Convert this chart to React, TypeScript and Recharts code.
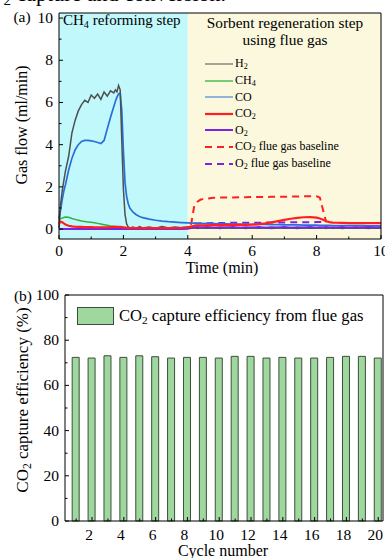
import { LineChart, Line, BarChart, Bar, XAxis, YAxis, ReferenceArea, ReferenceLine, Legend } from 'recharts';

const FONT = '"Liberation Serif", "Times New Roman", serif';

// (a) gas flow vs time
const time = [
  0, 0.05, 0.1, 0.15, 0.2, 0.3, 0.4, 0.5, 0.6, 0.7,
  0.8, 0.9, 1.0, 1.1, 1.2, 1.3, 1.4, 1.5, 1.6, 1.7,
  1.75, 1.8, 1.85, 1.9, 1.95, 2.0, 2.05, 2.1, 2.15, 2.2,
  2.3, 2.4, 2.5, 2.6, 2.8, 3.0, 3.2, 3.4, 3.6, 3.8,
  4.0, 4.1, 4.2, 4.3, 4.4, 4.6, 4.8, 5.0, 5.2, 5.4,
  5.6, 5.8, 6.0, 6.2, 6.4, 6.6, 6.8, 7.0, 7.2, 7.4,
  7.6, 7.8, 8.0, 8.1, 8.2, 8.3, 8.4, 8.5, 8.6, 8.8,
  9.0, 9.2, 9.4, 9.6, 9.8, 10.0,
];
const h2 = [
  0.05, 1.2, 1.8, 2.3, 2.75, 3.45, 4.55, 5.15, 5.6, 5.9,
  6.1, 6.0, 6.35, 6.2, 6.4, 6.15, 6.5, 6.3, 6.55, 6.45,
  6.6, 6.5, 6.8, 6.6, 4.2, 1.9, 0.7, 0.25, 0.1, 0.05,
  0.1, 0.03, 0.12, 0.05, 0.1, 0.04, 0.12, 0.05, 0.1, 0.06,
  0.1, 0.05, 0.08, 0.03, 0.07, 0.04, 0.08, 0.03, 0.07, 0.04,
  0.08, 0.03, 0.07, 0.04, 0.08, 0.03, 0.07, 0.04, 0.08, 0.03,
  0.07, 0.04, 0.08, 0.05, 0.07, 0.03, 0.08, 0.04, 0.07, 0.03,
  0.08, 0.04, 0.07, 0.03, 0.06, 0.05,
];
const ch4 = [
  0.45, 0.5, 0.52, 0.55, 0.57, 0.56, 0.5, 0.46, 0.42, 0.38,
  0.36, 0.34, 0.32, 0.3, 0.27, 0.24, 0.21, 0.18, 0.15, 0.13,
  0.12, 0.11, 0.1, 0.09, 0.08, 0.07, 0.06, 0.06, 0.05, 0.05,
  0.04, 0.04, 0.04, 0.04, 0.04, 0.04, 0.04, 0.04, 0.04, 0.04,
  0.04, 0.04, 0.04, 0.04, 0.04, 0.04, 0.04, 0.04, 0.04, 0.04,
  0.04, 0.04, 0.04, 0.04, 0.04, 0.04, 0.04, 0.04, 0.04, 0.04,
  0.04, 0.04, 0.04, 0.04, 0.04, 0.04, 0.04, 0.04, 0.04, 0.04,
  0.04, 0.04, 0.04, 0.04, 0.04, 0.04,
];
const co = [
  0.5, 0.9, 1.4, 1.8, 2.1, 2.8, 3.35, 3.75, 4.0, 4.15,
  4.2, 4.2, 4.18, 4.15, 4.1, 4.05, 4.2, 4.75, 5.3, 5.8,
  6.05, 6.25, 6.4, 6.45, 5.6, 3.7, 2.2, 1.55, 1.2, 1.0,
  0.8, 0.68, 0.6, 0.54, 0.47, 0.42, 0.38, 0.35, 0.33, 0.31,
  0.29, 0.28, 0.28, 0.27, 0.27, 0.26, 0.26, 0.25, 0.25, 0.24,
  0.24, 0.23, 0.23, 0.22, 0.22, 0.21, 0.21, 0.2, 0.2, 0.2,
  0.19, 0.19, 0.19, 0.18, 0.18, 0.18, 0.18, 0.17, 0.17, 0.17,
  0.16, 0.16, 0.16, 0.15, 0.15, 0.15,
];
const co2 = [
  0.25, 0.35, 0.32, 0.27, 0.22, 0.16, 0.13, 0.11, 0.1, 0.1,
  0.09, 0.09, 0.09, 0.08, 0.08, 0.08, 0.08, 0.08, 0.09, 0.1,
  0.1, 0.1, 0.1, 0.1, 0.09, 0.08, 0.07, 0.06, 0.06, 0.05,
  0.05, 0.05, 0.05, 0.05, 0.05, 0.05, 0.05, 0.05, 0.05, 0.06,
  0.08, 0.12, 0.15, 0.17, 0.18, 0.18, 0.19, 0.19, 0.19, 0.2,
  0.2, 0.2, 0.21, 0.23, 0.27, 0.32, 0.38, 0.44, 0.49, 0.53,
  0.56, 0.57, 0.54, 0.5, 0.44, 0.37, 0.33, 0.31, 0.3, 0.29,
  0.28, 0.28, 0.28, 0.28, 0.28, 0.28,
];
const o2 = [
  0, 0, 0, 0, 0, 0, 0, 0.01, 0, 0,
  0.01, 0, 0, 0.01, 0, 0, 0.01, 0, 0, 0.01,
  0, 0, 0.01, 0, 0, 0.01, 0, 0, 0.01, 0,
  0, 0.01, 0, 0, 0.01, 0, 0, 0.01, 0, 0,
  0.02, 0.05, 0.08, 0.1, 0.07, 0.1, 0.06, 0.09, 0.07, 0.1,
  0.06, 0.09, 0.07, 0.1, 0.06, 0.09, 0.07, 0.1, 0.06, 0.09,
  0.07, 0.1, 0.06, 0.09, 0.07, 0.1, 0.06, 0.09, 0.07, 0.1,
  0.06, 0.09, 0.07, 0.1, 0.08, 0.08,
];
const co2Base = [
  null, null, null, null, null, null, null, null, null, null,
  null, null, null, null, null, null, null, null, null, null,
  null, null, null, null, null, null, null, null, null, null,
  null, null, null, null, null, null, null, null, null, null,
  null, 0.2, 1.1, 1.3, 1.4, 1.45, 1.48, 1.5, 1.5, 1.5,
  1.51, 1.51, 1.52, 1.52, 1.52, 1.53, 1.53, 1.53, 1.54, 1.54,
  1.55, 1.55, 1.55, 1.5, 0.9, 0.32, null, null, null, null,
  null, null, null, null, null, null,
];
const o2Base = [
  null, null, null, null, null, null, null, null, null, null,
  null, null, null, null, null, null, null, null, null, null,
  null, null, null, null, null, null, null, null, null, null,
  null, null, null, null, null, null, null, null, null, null,
  null, null, 0.26, 0.27, 0.28, 0.28, 0.29, 0.29, 0.29, 0.3,
  0.3, 0.3, 0.3, 0.3, 0.31, 0.31, 0.31, 0.31, 0.32, 0.32,
  0.32, 0.32, 0.33, 0.33, 0.33, 0.33, null, null, null, null,
  null, null, null, null, null, null,
];
const flowTicks = [0, 1, 2, 3, 4, 5, 6, 7, 8, 9, 10];
const timeTicks = [0, 1, 2, 3, 4, 5, 6, 7, 8, 9, 10];

// (b) capture efficiency per cycle
const cycles = [1, 2, 3, 4, 5, 6, 7, 8, 9, 10, 11, 12, 13, 14, 15, 16, 17, 18, 19, 20];
const efficiency = [
  72.4, 72.1, 73.1, 72.4, 73.1, 72.7, 72.1, 72.4, 72.4, 72.1,
  72.85, 72.85, 72.1, 72.4, 72.1, 72.1, 72.4, 72.85, 72.85, 72.1,
];
const effTicks = [0, 10, 20, 30, 40, 50, 60, 70, 80, 90, 100];
const cycleTicks = [1, 2, 3, 4, 5, 6, 7, 8, 9, 10, 11, 12, 13, 14, 15, 16, 17, 18, 19, 20];

const FLOW_MIN = -0.47;
const FLOW_MAX = 10.24;
const CYCLE_MIN = 0.3;
const CYCLE_MAX = 20.3;

const RED = '#ff1f1f';
const PURPLE = '#7a24e6';

const flowSeries = [
  { key: 'h2', label: 'H', sub: '2', tail: '', color: '#4f4f4f', width: 1.5, legendWidth: 1, dash: undefined },
  { key: 'ch4', label: 'CH', sub: '4', tail: '', color: '#32b13c', width: 1.5, legendWidth: 1.3, dash: undefined },
  { key: 'co', label: 'CO', sub: '', tail: '', color: '#2a6fd8', width: 1.7, legendWidth: 1, dash: undefined },
  { key: 'co2', label: 'CO', sub: '2', tail: '', color: RED, width: 2.2, legendWidth: 2.2, dash: undefined },
  { key: 'o2', label: 'O', sub: '2', tail: '', color: PURPLE, width: 2, legendWidth: 2, dash: undefined },
  { key: 'co2Base', label: 'CO', sub: '2', tail: ' flue gas baseline', color: RED, width: 2, legendWidth: 2, dash: '7 5' },
  { key: 'o2Base', label: 'O', sub: '2', tail: ' flue gas baseline', color: PURPLE, width: 2, legendWidth: 2, dash: '7 5' },
];
const drawOrder = ['co2Base', 'o2Base', 'co', 'ch4', 'h2', 'o2', 'co2'];

const Sub = ({ children }: { children: any }) => (
  <span style={{ fontSize: '0.68em', verticalAlign: '-0.3em', lineHeight: 0 }}>{children}</span>
);

function makeYTick(step: number, longTick: number) {
  return (props: any) => {
    const { x, y, payload } = props;
    const major = payload.value % step === 0;
    return (
      <g>
        <line x1={x} x2={x + (major ? longTick : 2.5)} y1={y} y2={y} stroke="#000" strokeWidth={1} />
        {major && (
          <text x={x - 6} y={y + 5} textAnchor="end" fontSize={15.5} fontFamily={FONT} fill="#000">
            {payload.value}
          </text>
        )}
      </g>
    );
  };
}

function makeXTick(step: number, gap: number, dx: number) {
  return (props: any) => {
    const { x, y, payload } = props;
    const major = payload.value % step === 0;
    return (
      <g>
        <line x1={x} x2={x} y1={y} y2={y - (major ? 4 : 2.5)} stroke="#000" strokeWidth={1} />
        {major && (
          <text x={x + dx} y={y + gap} textAnchor="middle" fontSize={15.5} fontFamily={FONT} fill="#000">
            {payload.value}
          </text>
        )}
      </g>
    );
  };
}

function FlowLegend() {
  return (
    <div style={{ fontFamily: FONT, fontSize: 12, color: '#000' }}>
      {flowSeries.map((s) => (
        <div key={s.key} style={{ display: 'flex', alignItems: 'center', height: 16.6, whiteSpace: 'nowrap' }}>
          <svg width={30} height={10} style={{ display: 'block' }}>
            <line x1={1} x2={29} y1={5} y2={5} stroke={s.color} strokeWidth={s.legendWidth} strokeDasharray={s.dash} />
          </svg>
          <span style={{ marginLeft: 1 }}>
            {s.label}
            {s.sub && <Sub>{s.sub}</Sub>}
            {s.tail}
          </span>
        </div>
      ))}
    </div>
  );
}

function EffLegend() {
  return (
    <div style={{ display: 'flex', alignItems: 'center', fontFamily: FONT, fontSize: 16.6, color: '#000', whiteSpace: 'nowrap' }}>
      <div style={{ width: 35, height: 16, background: '#9fd89f', border: '1px solid #3d4d3d' }} />
      <span style={{ marginLeft: 5 }}>
        CO<Sub>2</Sub> capture efficiency from flue gas
      </span>
    </div>
  );
}

const center = (left: number, top: number, rotate = 0): any => ({
  position: 'absolute',
  left,
  top,
  transform: `translate(-50%, -50%) rotate(${rotate}deg)`,
  whiteSpace: 'nowrap',
  lineHeight: 1,
});

export default function App() {
  const flowRows = time.map((t, i) => ({
    t,
    h2: h2[i],
    ch4: ch4[i],
    co: co[i],
    co2: co2[i],
    o2: o2[i],
    co2Base: co2Base[i],
    o2Base: o2Base[i],
  }));
  const effRows = cycles.map((c, i) => ({ cycle: c, eff: efficiency[i] }));

  return (
    <div
      style={{
        position: 'absolute',
        left: 0,
        top: 0,
        width: 385,
        height: 558,
        background: '#fff',
        overflow: 'hidden',
        fontFamily: FONT,
        color: '#000',
      }}
    >
      <div style={{ position: 'absolute', left: -27, top: -17.5, fontSize: 22, lineHeight: 1, whiteSpace: 'nowrap' }}>
        CO<Sub>2</Sub> capture and conversion.
      </div>

      <div style={{ position: 'absolute', left: 0, top: 0 }}>
        <LineChart width={385} height={280} data={flowRows} margin={{ top: 13, right: 4, bottom: 0, left: 0 }}>
          <ReferenceArea x1={0} x2={4} fill="#c1f8fb" fillOpacity={1} stroke="none" />
          <ReferenceArea x1={4} x2={10} fill="#fcf8dd" fillOpacity={1} stroke="none" />
          <XAxis
            dataKey="t"
            type="number"
            domain={[0, 10]}
            ticks={timeTicks}
            interval={0}
            tickSize={0}
            tickMargin={0}
            tickLine={false}
            height={41}
            stroke="#000"
            tick={makeXTick(2, 17, 0)}
          />
          <YAxis
            type="number"
            domain={[FLOW_MIN, FLOW_MAX]}
            ticks={flowTicks}
            interval={0}
            tickSize={0}
            tickMargin={0}
            tickLine={false}
            width={59}
            stroke="#000"
            tick={makeYTick(2, 4)}
          />
          {drawOrder.map((k) => {
            const s = flowSeries.find((f) => f.key === k)!;
            return (
              <Line
                key={s.key}
                dataKey={s.key}
                type="linear"
                stroke={s.color}
                strokeWidth={s.width}
                strokeDasharray={s.dash}
                dot={false}
                activeDot={false}
                isAnimationActive={false}
              />
            );
          })}
          <ReferenceLine y={FLOW_MAX} stroke="#000" strokeWidth={1} />
          <ReferenceLine x={10} stroke="#000" strokeWidth={1} />
          <Legend
            layout="vertical"
            align="center"
            verticalAlign="middle"
            wrapperStyle={{ left: 204, top: 55.7, width: 180 }}
            content={() => <FlowLegend />}
          />
        </LineChart>
      </div>

      <div style={{ position: 'absolute', left: 0, top: 280 }}>
        <BarChart width={385} height={278} data={effRows} margin={{ top: 15, right: 2, bottom: 0, left: 0 }}>
          <XAxis
            dataKey="cycle"
            type="number"
            domain={[CYCLE_MIN, CYCLE_MAX]}
            ticks={cycleTicks}
            interval={0}
            tickSize={0}
            tickMargin={0}
            tickLine={false}
            height={37}
            stroke="#000"
            tick={makeXTick(2, 19, -3)}
          />
          <YAxis
            type="number"
            domain={[0, 100]}
            ticks={effTicks}
            interval={0}
            tickSize={0}
            tickMargin={0}
            tickLine={false}
            width={65}
            stroke="#000"
            tick={makeYTick(20, 4)}
          />
          <Bar dataKey="eff" barSize={7} fill="#9fd89f" stroke="#3d4d3d" strokeWidth={1} isAnimationActive={false} />
          <ReferenceLine y={100} stroke="#000" strokeWidth={1} />
          <ReferenceLine x={CYCLE_MAX} stroke="#000" strokeWidth={1} />
          <Legend
            layout="vertical"
            align="center"
            verticalAlign="middle"
            wrapperStyle={{ left: 77, top: 26, width: 300 }}
            content={() => <EffLegend />}
          />
        </BarChart>
      </div>

      <div style={{ position: 'absolute', left: 63, top: 12, fontSize: 15, lineHeight: '16px', whiteSpace: 'nowrap' }}>
        CH<Sub>4</Sub> reforming step
      </div>
      <div
        style={{
          position: 'absolute',
          left: 188,
          top: 14,
          width: 194,
          fontSize: 15.3,
          lineHeight: '17px',
          textAlign: 'center',
          whiteSpace: 'nowrap',
        }}
      >
        Sorbent regeneration step
        <br />
        using flue gas
      </div>

      <div style={{ ...center(22, 17), fontSize: 15.5 }}>(a)</div>
      <div style={{ ...center(23, 296), fontSize: 15.5 }}>(b)</div>
      <div style={{ ...center(22, 125, -90), fontSize: 16 }}>Gas flow (ml/min)</div>
      <div style={{ ...center(22, 400, -90), fontSize: 17 }}>
        CO<Sub>2</Sub> capture efficiency (%)
      </div>
      <div style={{ ...center(222, 268), fontSize: 16 }}>Time (min)</div>
      <div style={{ ...center(223, 551), fontSize: 16 }}>Cycle number</div>
    </div>
  );
}
